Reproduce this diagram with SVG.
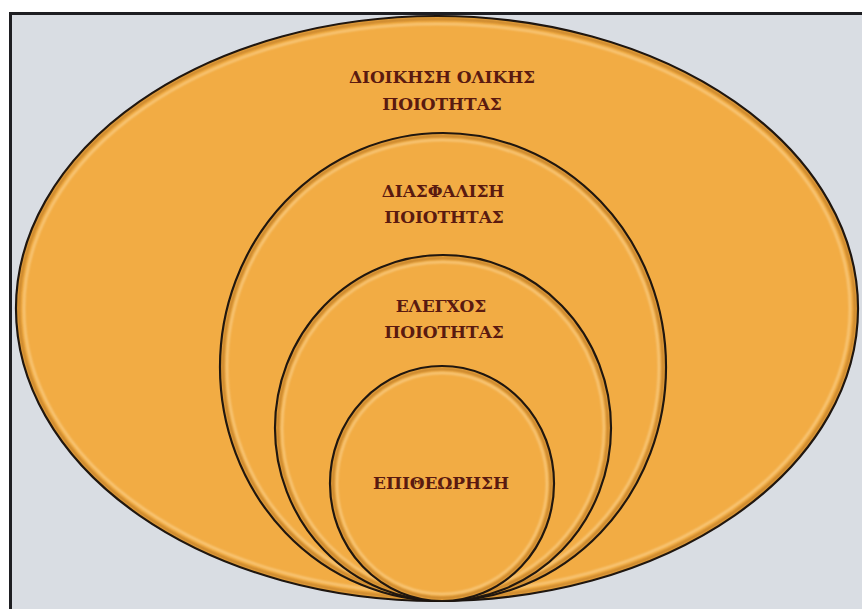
<svg xmlns="http://www.w3.org/2000/svg" width="862" height="609" viewBox="0 0 862 609">
  <defs>
    <style>
      .shape { fill: #F2AC44; stroke: #1b1410; stroke-width: 2.2; }
      .hl { fill: none; stroke: #FFE7B8; stroke-width: 2; opacity: 0.55; filter: url(#soft); }
      .sh { fill: none; stroke: #9a5a10; stroke-width: 3; opacity: 0.45; filter: url(#soft); }
      .lbl { font-family: "DejaVu Serif", "Liberation Serif", serif; font-weight: bold; font-size: 17px; letter-spacing: -0.1px; fill: #5A1A10; text-anchor: middle; }
    </style>
    <filter id="soft" x="-5%" y="-5%" width="110%" height="110%">
      <feGaussianBlur stdDeviation="1.2"/>
    </filter>
  </defs>

  <rect x="0" y="0" width="862" height="609" fill="#ffffff"/>
  <rect x="10.5" y="13.5" width="870" height="620" fill="#D9DDE3" stroke="#1e1e22" stroke-width="3"/>

  <g id="node-tqm">
    <ellipse class="shape" cx="437" cy="308.5" rx="421" ry="292.5"/>
    <ellipse class="sh" cx="437" cy="308.5" rx="418" ry="289.5"/>
    <ellipse class="hl" cx="437" cy="308.5" rx="413" ry="284.5"/>
    <text class="lbl" x="442" y="83">ΔΙΟΙΚΗΣΗ ΟΛΙΚΗΣ</text>
    <text class="lbl" x="442" y="110">ΠΟΙΟΤΗΤΑΣ</text>
  </g>

  <g id="node-qa">
    <ellipse class="shape" cx="443" cy="367" rx="223" ry="234"/>
    <ellipse class="sh" cx="443" cy="367" rx="220" ry="231"/>
    <ellipse class="hl" cx="443" cy="367" rx="216" ry="227"/>
    <text class="lbl" x="443" y="197">ΔΙΑΣΦΑΛΙΣΗ</text>
    <text class="lbl" x="444" y="223">ΠΟΙΟΤΗΤΑΣ</text>
  </g>

  <g id="node-qc">
    <ellipse class="shape" cx="443" cy="428" rx="168" ry="173"/>
    <ellipse class="sh" cx="443" cy="428" rx="165" ry="170"/>
    <ellipse class="hl" cx="443" cy="428" rx="161" ry="166"/>
    <text class="lbl" x="441" y="312">ΕΛΕΓΧΟΣ</text>
    <text class="lbl" x="444" y="338">ΠΟΙΟΤΗΤΑΣ</text>
  </g>

  <g id="node-inspection">
    <ellipse class="shape" cx="442" cy="483.5" rx="112" ry="117.5"/>
    <ellipse class="sh" cx="442" cy="483.5" rx="109" ry="114.5"/>
    <ellipse class="hl" cx="442" cy="483.5" rx="105" ry="110.5"/>
    <text class="lbl" x="441" y="489">ΕΠΙΘΕΩΡΗΣΗ</text>
  </g>
</svg>
